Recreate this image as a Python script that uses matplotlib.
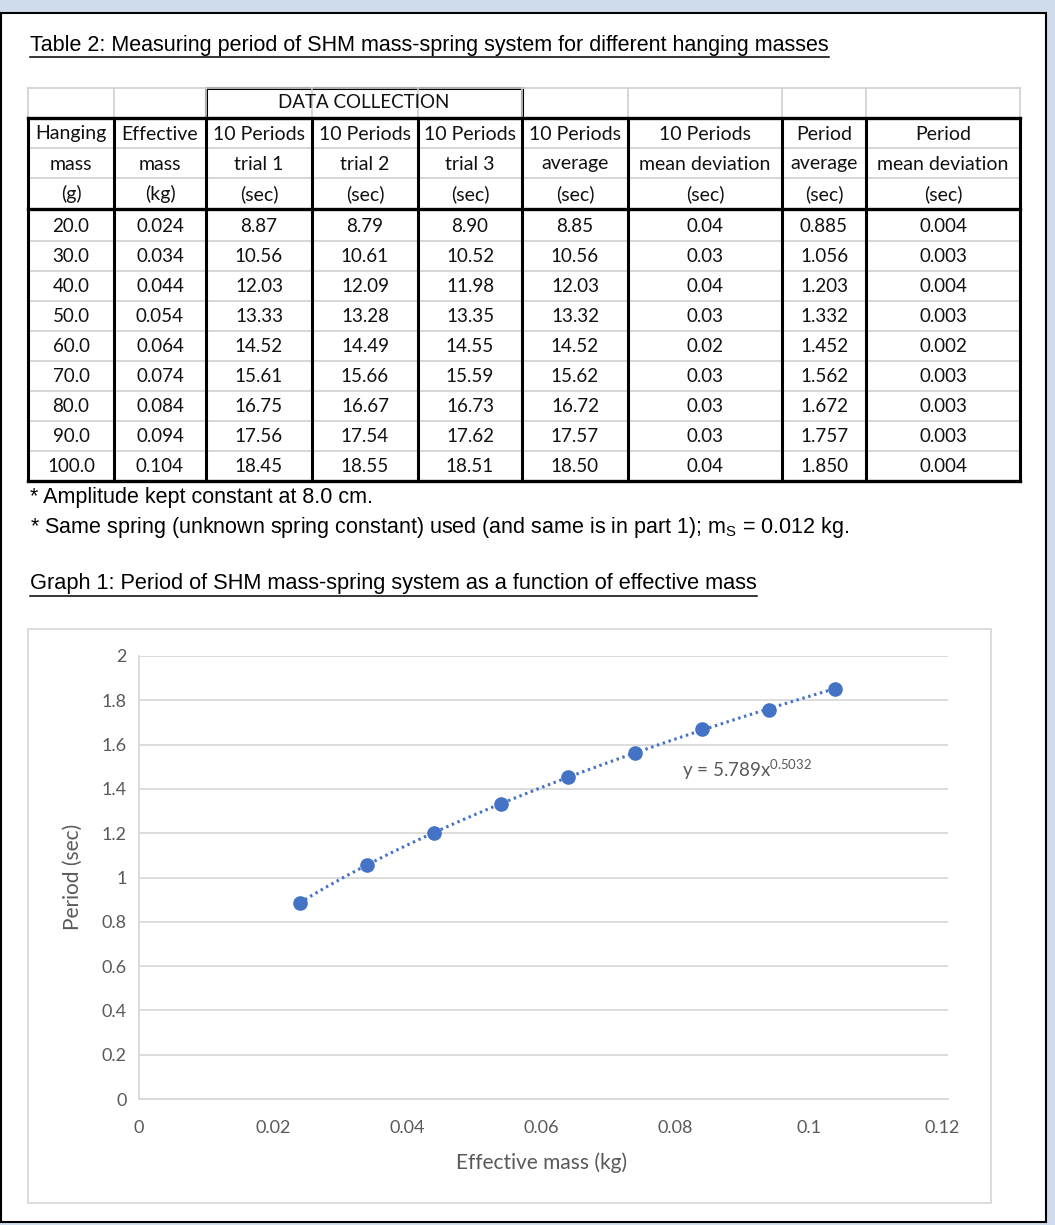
import numpy as np
import matplotlib
matplotlib.use("Agg")
import matplotlib.pyplot as plt
from matplotlib.patches import Rectangle

# ---- data ----
hanging_mass = [20.0, 30.0, 40.0, 50.0, 60.0, 70.0, 80.0, 90.0, 100.0]
effective_mass = [0.024, 0.034, 0.044, 0.054, 0.064, 0.074, 0.084, 0.094, 0.104]
trial1 = [8.87, 10.56, 12.03, 13.33, 14.52, 15.61, 16.75, 17.56, 18.45]
trial2 = [8.79, 10.61, 12.09, 13.28, 14.49, 15.66, 16.67, 17.54, 18.55]
trial3 = [8.90, 10.52, 11.98, 13.35, 14.55, 15.59, 16.73, 17.62, 18.51]
avg10 = [8.85, 10.56, 12.03, 13.32, 14.52, 15.62, 16.72, 17.57, 18.50]
dev10 = [0.04, 0.03, 0.04, 0.03, 0.02, 0.03, 0.03, 0.03, 0.04]
period_avg = [0.885, 1.056, 1.203, 1.332, 1.452, 1.562, 1.672, 1.757, 1.850]
period_dev = [0.004, 0.003, 0.004, 0.003, 0.002, 0.003, 0.003, 0.003, 0.004]

header1 = ["Hanging", "Effective", "10 Periods", "10 Periods", "10 Periods",
           "10 Periods", "10 Periods", "Period", "Period"]
header2 = ["mass", "mass", "trial 1", "trial 2", "trial 3",
           "average", "mean deviation", "average", "mean deviation"]
header3 = ["(g)", "(kg)", "(sec)", "(sec)", "(sec)", "(sec)", "(sec)", "(sec)", "(sec)"]
fmts = ["%.1f", "%.3f", "%.2f", "%.2f", "%.2f", "%.2f", "%.2f", "%.3f", "%.3f"]
columns = [hanging_mass, effective_mass, trial1, trial2, trial3,
           avg10, dev10, period_avg, period_dev]

x_ticks = [0, 0.02, 0.04, 0.06, 0.08, 0.1, 0.12]
y_ticks = [0, 0.2, 0.4, 0.6, 0.8, 1, 1.2, 1.4, 1.6, 1.8, 2]

W, H = 1055, 1225
fig = plt.figure(figsize=(W / 100, H / 100), dpi=100)
fig.patch.set_facecolor("#cfdcec")

bg = fig.add_axes([0, 0, 1, 1])
bg.set_xlim(0, W)
bg.set_ylim(H, 0)
bg.axis("off")

# page
bg.add_patch(Rectangle((1, 13), 1045, 1209, facecolor="white", edgecolor="black", lw=1.5))

TXT = "Liberation Sans"
CAL = "Lato"
GRAY = "#595959"


def underlined(x, y, s, size):
    t = bg.text(x, y, s, fontsize=size, family=TXT, va="center", ha="left")
    fig.canvas.draw()
    bb = t.get_window_extent().transformed(bg.transData.inverted())
    bg.plot([bb.x0, bb.x1], [y + 12, y + 12], color="black", lw=1.1)


underlined(30, 45, "Table 2: Measuring period of SHM mass-spring system for different hanging masses", 15.5)

# ---- table ----
cols = [28, 114, 206, 312, 418, 522, 628, 782, 866, 1020]
top = 88
row_h = 30
data_top = 211
data_bot = data_top + row_h * len(hanging_mass)

thin = "#d0d0d0"
# light grid
for x in cols:
    bg.plot([x, x], [top, data_bot], color=thin, lw=1.2)
for y in [top, 148, 178] + [data_top + row_h * i for i in range(1, len(hanging_mass))]:
    bg.plot([cols[0], cols[-1]], [y, y], color=thin, lw=1.2)

# thick borders
for x in cols:
    bg.plot([x, x], [118, data_bot], color="black", lw=2.2)
for y in [118, 209, data_bot]:
    bg.plot([cols[0], cols[-1]], [y, y], color="black", lw=2.4)
bg.add_patch(Rectangle((cols[2], top), cols[5] - cols[2], 30, fill=False, edgecolor="black", lw=2.2))
bg.text((cols[2] + cols[5]) / 2, 103, "DATA COLLECTION", ha="center", va="center",
        fontsize=13.5, family=CAL, color="#111111")

for i in range(9):
    cx = (cols[i] + cols[i + 1]) / 2
    for y, lab in zip([134, 164, 194], [header1[i], header2[i], header3[i]]):
        bg.text(cx, y, lab, ha="center", va="center", fontsize=14, family=CAL, color="#111111")
    for r, v in enumerate(columns[i]):
        bg.text(cx, data_top + row_h * r + 15, fmts[i] % v, ha="center", va="center",
                fontsize=13.5, family=CAL, color="#111111")

bg.text(30, 497, "* Amplitude kept constant at 8.0 cm.", fontsize=15.5, family=TXT, va="center")
bg.text(30, 527, r"* Same spring (unknown spring constant) used (and same is in part 1); m$\mathregular{_S}$ = 0.012 kg.",
        fontsize=15.5, family=TXT, va="center")

underlined(30, 584, "Graph 1: Period of SHM mass-spring system as a function of effective mass", 15.7)

# chart frame
bg.add_patch(Rectangle((28, 629), 963, 574, fill=False, edgecolor="#d9d9d9", lw=1.3))

# ---- chart ----
ax = fig.add_axes([139 / W, 1 - 1099 / H, (948 - 139) / W, (1099 - 656) / H])
ax.patch.set_alpha(0)
ax.set_xlim(0, 0.1208)
ax.set_ylim(0, 2)
ax.set_xticks(x_ticks)
ax.set_xticklabels(["0", "0.02", "0.04", "0.06", "0.08", "0.1", "0.12"])
ax.set_yticks(y_ticks)
ax.set_yticklabels(["0", "0.2", "0.4", "0.6", "0.8", "1", "1.2", "1.4", "1.6", "1.8", "2"])
ax.grid(axis="y", color="#d9d9d9", lw=1.3)
ax.set_axisbelow(True)
for s in ["top", "right"]:
    ax.spines[s].set_visible(False)
for s in ["left", "bottom"]:
    ax.spines[s].set_color("#d9d9d9")
    ax.spines[s].set_linewidth(1.3)
ax.tick_params(length=0, labelcolor=GRAY, labelsize=13)
ax.tick_params(axis="y", pad=9)
ax.tick_params(axis="x", pad=15)
for lab in ax.get_xticklabels() + ax.get_yticklabels():
    lab.set_family(CAL)

# power-law trendline fitted to the data
b, log_a = np.polyfit(np.log(effective_mass), np.log(period_avg), 1)
xs = np.linspace(min(effective_mass), max(effective_mass), 100)
ax.plot(xs, np.exp(log_a) * xs ** b, linestyle=(0, (0.8, 1.2)), color="#4472c4", lw=2.2)
ax.plot(effective_mass, period_avg, "o", color="#4472c4", ms=9.5, zorder=3)

bg.text(682, 770, r"y = 5.789x$\mathregular{^{0.5032}}$", fontsize=13.5, family=CAL,
        color=GRAY, va="center")
bg.text(542, 1163, "Effective mass (kg)", fontsize=15, family=CAL, color=GRAY,
        ha="center", va="center")
bg.text(73, 877, "Period (sec)", fontsize=15, family=CAL, color=GRAY,
        ha="center", va="center", rotation=90)

fig.savefig("out.png", dpi=100, facecolor=fig.get_facecolor())
